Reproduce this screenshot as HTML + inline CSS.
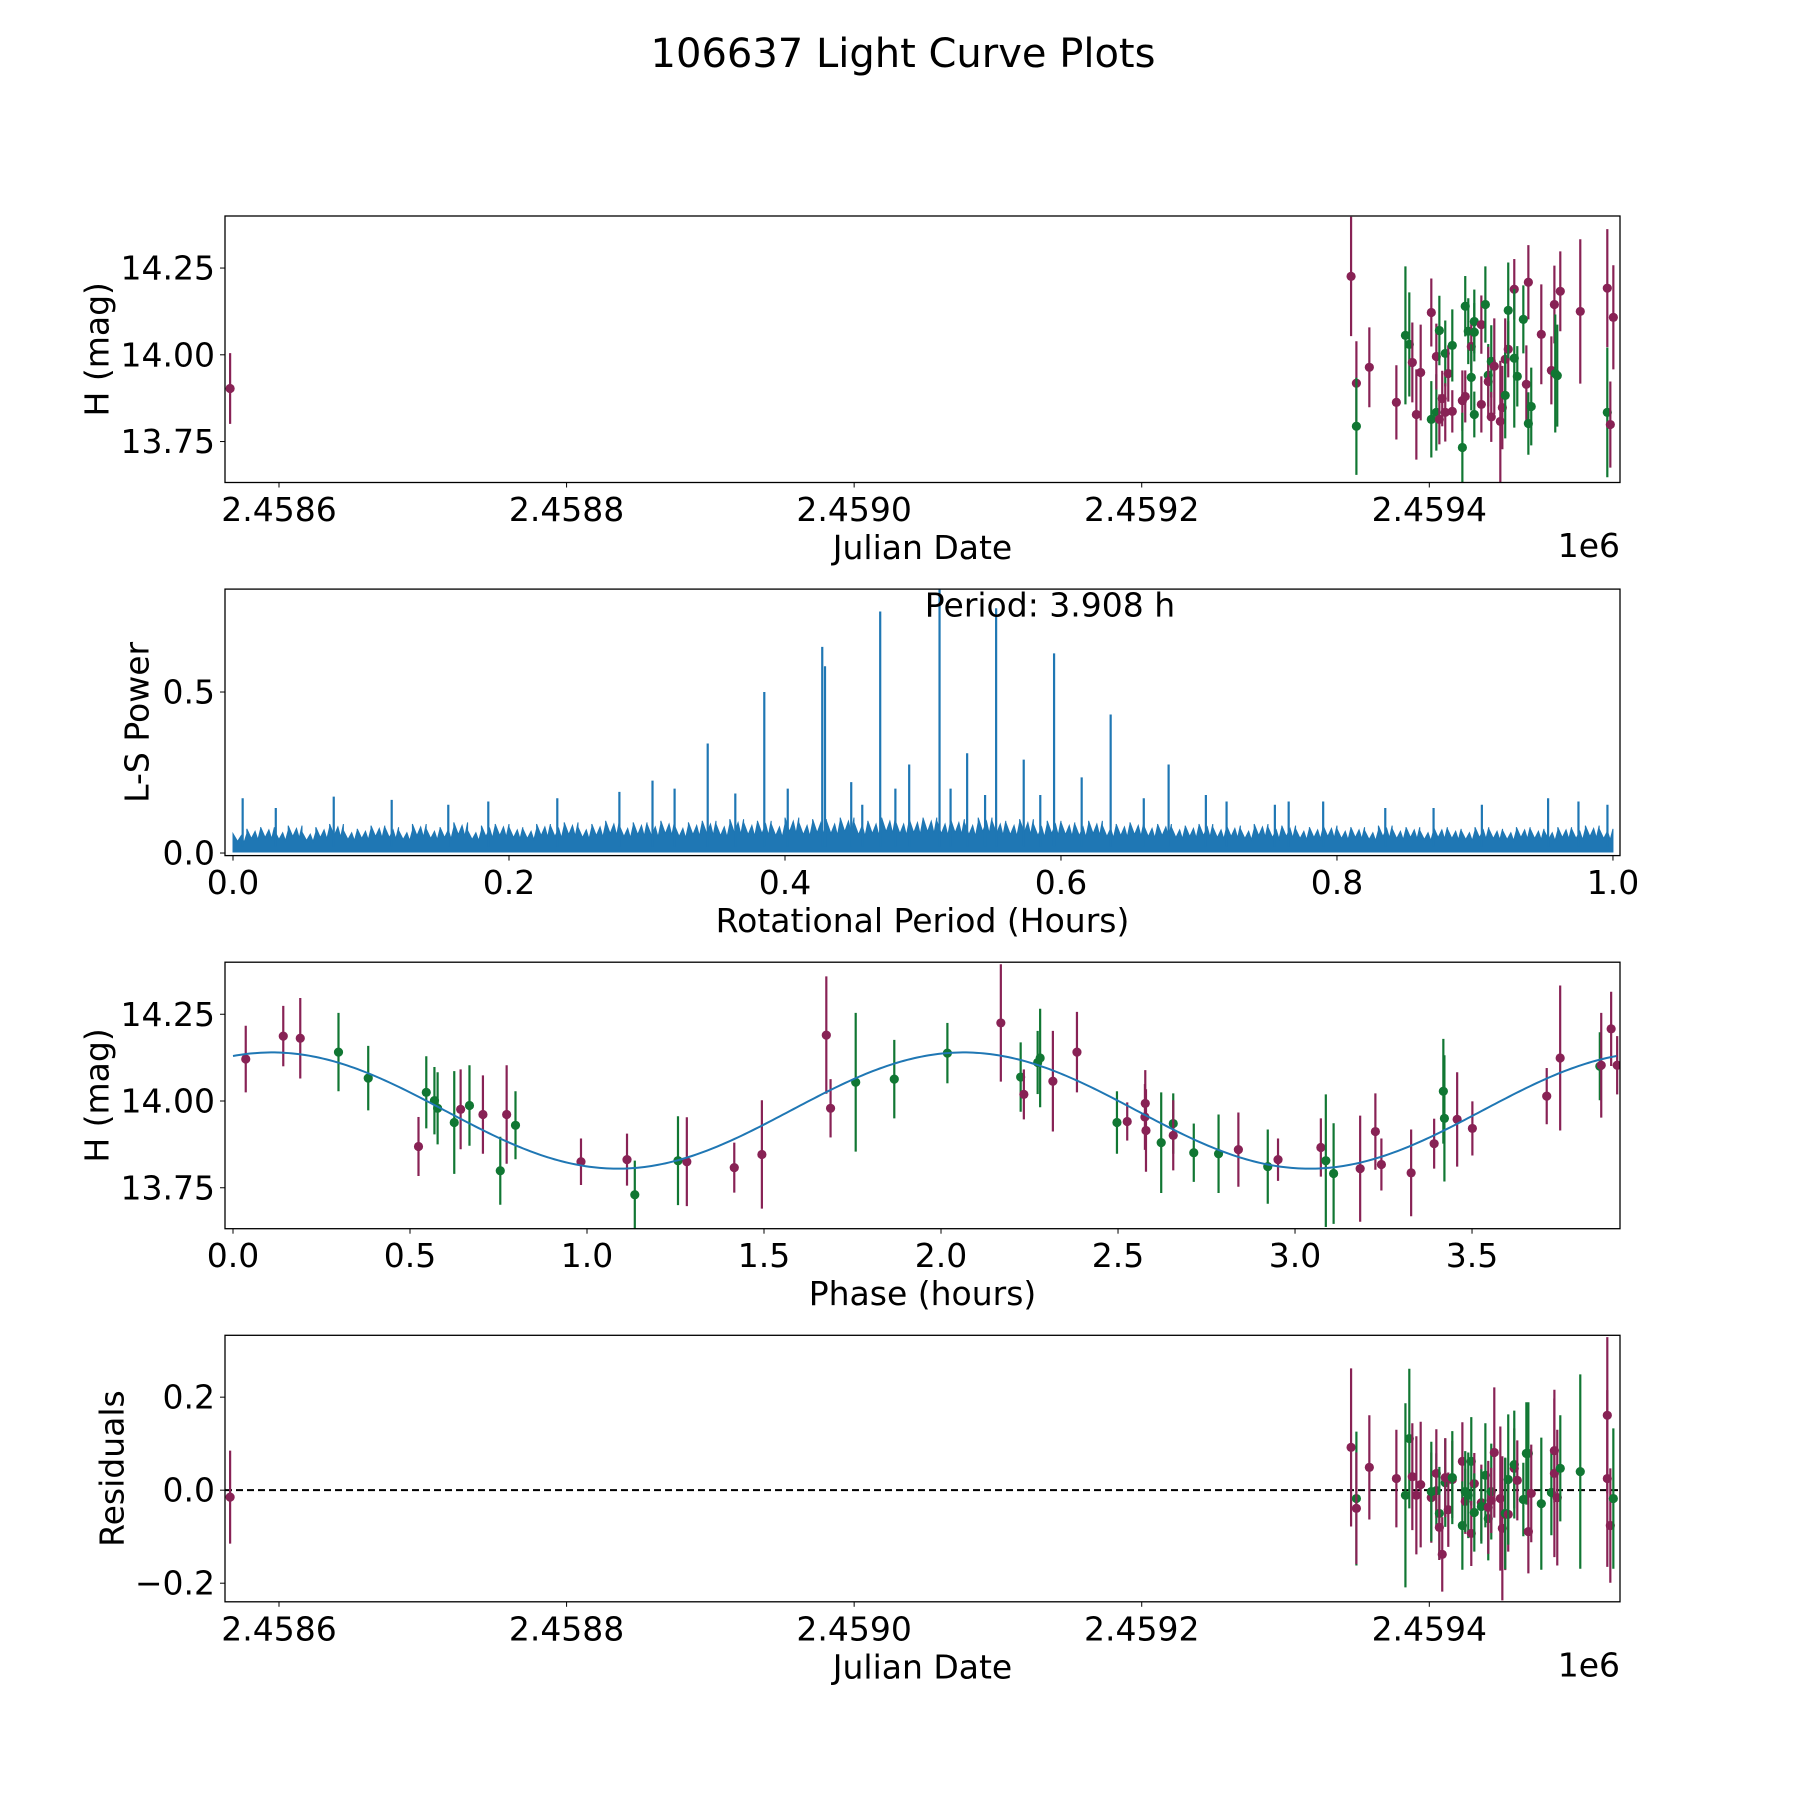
<!DOCTYPE html>
<html><head><meta charset="utf-8">
<style>
html,body{margin:0;padding:0;background:#fff;}
svg{display:block;font-family:"DejaVu Sans","Liberation Sans",sans-serif;}
</style></head>
<body>
<svg id="fig" width="1800" height="1800" viewBox="0 0 1800 1800" xmlns="http://www.w3.org/2000/svg">
<rect x="0" y="0" width="1800" height="1800" fill="#fff"/>
<text x="903" y="54" font-size="40" text-anchor="middle" dominant-baseline="central">106637 Light Curve Plots</text>
</svg>
<script>
// ---------- Panel 1: raw light curve (days offset from JD 2458600) ----------
const lcDays = [-34,745.6,749.3,749.3,758.3,777.1,783.4,786.1,788.2,791.0,794.0,801.4,801.4,804.9,804.9,807.0,807.0,809.0,811.1,811.1,813.2,816.0,816.0,823.0,823.0,825.0,825.0,827.1,829.2,829.2,831.3,831.3,831.3,836.2,836.2,839.0,841.0,841.0,843.1,843.1,845.2,849.4,850.8,852.8,852.8,854.9,854.9,859.1,859.1,861.2,865.4,867.5,868.9,868.9,870.9,877.9,884.9,887.0,887.6,889.0,891.1,905.0,923.8,923.8,925.9,928.0];
const lcMag = [13.903,14.226,13.918,13.794,13.964,13.863,14.056,14.030,13.978,13.828,13.949,14.122,13.814,13.834,13.995,13.814,14.070,13.874,14.004,13.834,13.946,14.027,13.837,13.868,13.733,13.880,14.140,14.068,14.024,13.935,14.096,14.065,13.828,14.087,13.857,14.145,13.941,13.923,13.981,13.821,13.967,13.808,13.848,13.987,13.883,14.016,14.128,14.189,13.990,13.938,14.102,13.915,14.209,13.802,13.851,14.059,13.955,14.145,13.946,13.940,14.183,14.125,14.192,13.834,13.799,14.108];
const lcErr = [0.102,0.172,0.121,0.14,0.115,0.107,0.199,0.150,0.115,0.13,0.138,0.098,0.11,0.11,0.095,0.072,0.10,0.08,0.095,0.084,0.081,0.104,0.061,0.087,0.1,0.075,0.087,0.095,0.07,0.095,0.092,0.084,0.066,0.084,0.081,0.11,0.09,0.10,0.104,0.072,0.138,0.175,0.12,0.118,0.124,0.081,0.138,0.087,0.2,0.087,0.098,0.112,0.107,0.09,0.112,0.144,0.098,0.112,0.17,0.147,0.115,0.208,0.17,0.187,0.124,0.15];
const lcBand = "mmmgmmggmmmmggmmgmgmmgmmgmggmggggmmggmgmmmmmgmgmgggmmggmmmggmmmgmm";

// ---------- Panel 2: periodogram ----------
const peakPeriods = [0.344,0.385,0.427,0.429,0.469,0.49,0.512,0.532,0.553,0.573,0.595,0.615,0.636,0.678,0.007,0.031,0.073,0.115,0.156,0.185,0.235,0.28,0.304,0.32,0.364,0.402,0.448,0.456,0.48,0.52,0.545,0.585,0.66,0.705,0.72,0.755,0.765,0.79,0.835,0.87,0.905,0.953,0.975,0.996];
const peakPowers = [0.34,0.50,0.64,0.58,0.75,0.275,0.82,0.31,0.76,0.29,0.62,0.235,0.43,0.275,0.17,0.14,0.175,0.165,0.15,0.16,0.17,0.19,0.225,0.2,0.185,0.2,0.22,0.15,0.2,0.2,0.18,0.18,0.17,0.18,0.16,0.15,0.16,0.16,0.14,0.14,0.15,0.17,0.16,0.15];
const noiseEnvelope = [0.06,0.075,0.08,0.07,0.085,0.065,0.08,0.09,0.07,0.075,0.085,0.08,0.07,0.09,0.075,0.08,0.095,0.07,0.085,0.09,0.08,0.075,0.09,0.085,0.095,0.08,0.09,0.1,0.085,0.095,0.09,0.1,0.085,0.095,0.1,0.09,0.105,0.095,0.1,0.09,0.11,0.095,0.105,0.1,0.11,0.095,0.1,0.11,0.1,0.105,0.11,0.1,0.105,0.095,0.11,0.1,0.095,0.105,0.09,0.1,0.095,0.09,0.1,0.085,0.09,0.095,0.085,0.09,0.08,0.085,0.09,0.08,0.085,0.075,0.09,0.08,0.085,0.075,0.08,0.085,0.075,0.08,0.07,0.085,0.075,0.08,0.07,0.08,0.075,0.07,0.08,0.075,0.07,0.08,0.075,0.07,0.08,0.075,0.085,0.075];

// ---------- Panel 3: phase folded ----------
const phHours = [0.036,0.142,0.19,0.298,0.382,0.524,0.546,0.569,0.578,0.625,0.643,0.668,0.706,0.773,0.798,0.755,0.983,1.113,1.135,1.257,1.282,1.416,1.494,1.676,1.688,1.759,1.868,2.018,2.169,2.225,2.234,2.273,2.280,2.316,2.384,2.497,2.526,2.577,2.576,2.579,2.622,2.656,2.656,2.714,2.784,2.840,2.923,2.952,3.073,3.087,3.109,3.184,3.227,3.244,3.328,3.393,3.419,3.422,3.458,3.501,3.711,3.749,3.861,3.865,3.893,3.910];
const phMag = [14.121,14.187,14.181,14.141,14.066,13.869,14.025,14.001,13.979,13.938,13.976,13.987,13.961,13.961,13.930,13.799,13.825,13.831,13.730,13.828,13.825,13.808,13.846,14.190,13.979,14.054,14.063,14.138,14.225,14.069,14.019,14.111,14.124,14.057,14.141,13.938,13.941,13.993,13.954,13.915,13.880,13.935,13.901,13.851,13.848,13.860,13.811,13.831,13.866,13.828,13.791,13.805,13.912,13.817,13.793,13.877,14.028,13.950,13.947,13.921,14.014,14.124,14.100,14.103,14.208,14.103];
const phErr = [0.096,0.087,0.116,0.113,0.093,0.085,0.104,0.097,0.104,0.148,0.115,0.116,0.113,0.142,0.098,0.098,0.067,0.075,0.098,0.128,0.128,0.072,0.156,0.169,0.084,0.200,0.113,0.087,0.169,0.100,0.072,0.091,0.142,0.145,0.116,0.090,0.055,0.096,0.095,0.119,0.145,0.087,0.101,0.084,0.113,0.107,0.107,0.061,0.084,0.191,0.145,0.153,0.110,0.075,0.125,0.072,0.151,0.182,0.136,0.078,0.081,0.209,0.098,0.151,0.107,0.084];
const phBand = "mmmggmggggmgmmggmmggmmmmmgggmgmggmmgmmmmggmggmgmmggmmmmmggmmmmgmmm";
const modelMean = 13.9725, modelAmp = 0.1675, modelPeak = 0.11, modelHalfPeriod = 1.954, foldPeriod = 3.908;

// ---------- Panel 4: residuals ----------
const resDays = [-34,745.6,749.3,749.3,758.3,777.1,783.4,786.1,788.2,791,794,801.4,801.4,804.9,804.9,807,807,809,811.1,811.1,813.2,816,816,823,823,825,825,827.1,829.2,829.2,831.3,831.3,836.2,836.2,839,841,841,843.1,843.1,845.2,849.4,850.8,852.8,852.8,854.9,854.9,859.1,859.1,861.2,865.4,867.5,868.9,868.9,870.9,877.9,884.9,887,887,889,891.1,905,923.8,923.8,925.9,928];
const resVal = [-0.015,0.092,-0.018,-0.039,0.049,0.025,-0.011,0.111,0.029,-0.011,0.012,-0.016,-0.003,-0.001,0.036,-0.05,-0.08,-0.138,0.016,0.027,-0.042,0.023,0.027,0.062,-0.076,-0.024,-0.003,-0.011,0.062,-0.093,0.014,-0.048,-0.027,-0.035,0.032,-0.061,-0.037,-0.003,-0.022,0.081,-0.018,-0.082,-0.052,-0.05,-0.052,0.023,0.047,0.055,0.021,-0.02,0.079,0.079,-0.089,-0.007,-0.029,-0.005,0.085,0.036,-0.016,0.047,0.04,0.161,0.025,-0.076,-0.018];
const resErr = [0.1,0.17,0.144,0.12,0.112,0.105,0.198,0.15,0.115,0.127,0.135,0.097,0.107,0.08,0.095,0.1,0.07,0.08,0.095,0.085,0.08,0.083,0.1,0.084,0.095,0.07,0.087,0.092,0.095,0.07,0.066,0.084,0.082,0.08,0.112,0.09,0.1,0.103,0.07,0.14,0.155,0.155,0.12,0.12,0.08,0.14,0.086,0.116,0.086,0.079,0.11,0.11,0.09,0.105,0.142,0.092,0.112,0.18,0.146,0.114,0.209,0.168,0.19,0.123,0.151];
const resBand = "mmgmmmggmmmmggmgmmgmmmgmgmgggmmgmgggmgmmmmmgmgmgmgggmmggmmmggmmmgmm";

const xDateTicks = [0,200,400,600,800];
const xDateTickLabels = ["2.4586","2.4588","2.4590","2.4592","2.4594"];
const yMagTicks = [13.75,14.00,14.25];
const yMagTickLabels = ["13.75","14.00","14.25"];
const xPerTicks = [0,0.2,0.4,0.6,0.8,1.0];
const xPerTickLabels = ["0.0","0.2","0.4","0.6","0.8","1.0"];
const yPowTicks = [0,0.5];
const yPowTickLabels = ["0.0","0.5"];
const xPhTicks = [0,0.5,1,1.5,2,2.5,3,3.5];
const xPhTickLabels = ["0.0","0.5","1.0","1.5","2.0","2.5","3.0","3.5"];
const yResTicks = [-0.2,0,0.2];
const yResTickLabels = ["\u22120.2","0.0","0.2"];

const NS = "http://www.w3.org/2000/svg";
const svg = document.getElementById("fig");
const L = 225, R = 1620, H = 266.5;
const tops = [216, 589.1, 962.2, 1335.3];
const COL = {m:"#882255", g:"#117733"};
const FS = 33;

function el(tag, attrs, parent) {
  const e = document.createElementNS(NS, tag);
  for (const k in attrs) e.setAttribute(k, attrs[k]);
  (parent || svg).appendChild(e);
  return e;
}
function lin(d0, d1, p0, p1) { return v => p0 + (v - d0) / (d1 - d0) * (p1 - p0); }

function axesFrame(i, name, xs, ys, xt, xtl, yt, ytl, xlabel, ylabel, ylabelX) {
  const top = tops[i], bot = top + H;
  const g = el("g", {});
  
  
  xt.forEach((v, k) => {
    const x = xs(v);
    const t = el("line", {x1:x, x2:x, y1:bot, y2:bot+5, stroke:"#000", "stroke-width":1}, g);
    
    
    const lb = el("text", {x:x, y:bot+27, "font-size":FS, "text-anchor":"middle", "dominant-baseline":"central"}, g);
    
    
    lb.textContent = xtl[k];
  });
  yt.forEach((v, k) => {
    const y = ys(v);
    const t = el("line", {x1:L-5, x2:L, y1:y, y2:y, stroke:"#000", "stroke-width":1}, g);
    
    
    const lb = el("text", {x:L-10, y:y, "font-size":FS, "text-anchor":"end", "dominant-baseline":"central"}, g);
    
    
    lb.textContent = ytl[k];
  });
  const xl = el("text", {x:(L+R)/2, y:bot+65, "font-size":FS, "text-anchor":"middle", "dominant-baseline":"central"}, g);
  
  
  xl.textContent = xlabel;
  const yl = el("text", {x:0, y:0, "font-size":FS, "text-anchor":"middle", "dominant-baseline":"central", transform:`translate(${ylabelX},${top+H/2}) rotate(-90)`}, g);
  
  
  yl.textContent = ylabel;
  return g;
}
function frameRect(i, name) {
  const r = el("rect", {x:L, y:tops[i], width:R-L, height:H, fill:"none", stroke:"#000", "stroke-width":1.3});
  
  
}
function clip(i, id) {
  const c = el("clipPath", {id:id});
  el("rect", {x:L, y:tops[i], width:R-L, height:H}, c);
}
function errPoints(parent, xsArr, ysArr, esArr, band, xs, ys, nm) {
  xsArr.forEach((v, k) => {
    const x = xs(v), c = COL[band[k]] || COL.m;
    const g = el("g", {}, parent);
    
    
    el("line", {x1:x, x2:x, y1:ys(ysArr[k]+esArr[k]), y2:ys(ysArr[k]-esArr[k]), stroke:c, "stroke-width":2.2}, g);
    el("circle", {cx:x, cy:ys(ysArr[k]), r:4.6, fill:c}, g);
  });
}

// Panel 1
const xDate = lin(0, 800, 279, 1429.3);
const yMag1 = lin(13.632, 14.40, tops[0]+H, tops[0]);
clip(0, "c0");
axesFrame(0, "raw-lightcurve-axes", xDate, yMag1, xDateTicks, xDateTickLabels, yMagTicks, yMagTickLabels, "Julian Date", "H (mag)", 97);
const p1 = el("g", {"clip-path":"url(#c0)"});


errPoints(p1, lcDays, lcMag, lcErr, lcBand, xDate, yMag1, 'lightcurve-point');
frameRect(0, "raw-lightcurve-frame");
const off1 = el("text", {x:R, y:tops[0]+H+63, "font-size":FS, "text-anchor":"end", "dominant-baseline":"central"});


off1.textContent = "1e6";

// Panel 2
const xPer = lin(-0.0058, 1.0051, L, R);
const yPow = lin(-0.008, 0.8196, tops[1]+H, tops[1]);
clip(1, "c1");
axesFrame(1, "periodogram-axes", xPer, yPow, xPerTicks, xPerTickLabels, yPowTicks, yPowTickLabels, "Rotational Period (Hours)", "L-S Power", 137);
const p2 = el("g", {"clip-path":"url(#c1)"});


let dPath = "M" + xPer(0) + "," + yPow(0.003);
const nE = noiseEnvelope.length;
noiseEnvelope.forEach((v, k) => {
  const x0 = xPer(k / nE), x1 = xPer((k + 1) / nE);
  dPath += " L" + x0 + "," + yPow(v) + " L" + (x0+(x1-x0)*0.33) + "," + yPow(v*0.6) + " L" + (x0+(x1-x0)*0.6) + "," + yPow(v*0.9) + " L" + (x0+(x1-x0)*0.8) + "," + yPow(v*0.55) + " L" + x1 + "," + yPow(v);
});
dPath += " L" + xPer(1) + "," + yPow(0.003) + " Z";
const band = el("path", {d:dPath, fill:"#1f77b4", stroke:"#1f77b4", "stroke-width":1}, p2);


peakPeriods.forEach((v, k) => {
  const x = xPer(v);
  const ln = el("line", {x1:x, x2:x, y1:yPow(0.02), y2:yPow(peakPowers[k]), stroke:"#1f77b4", "stroke-width":2.2}, p2);
  
  
});
frameRect(1, "periodogram-frame");
const per = el("text", {x:1050, y:605, "font-size":FS, "text-anchor":"middle", "dominant-baseline":"central"});


per.textContent = "Period: 3.908 h";

// Panel 3
const xPh = lin(-0.0226, 3.918, L, R);
const yMag3 = lin(13.632, 14.40, tops[2]+H, tops[2]);
clip(2, "c2");
axesFrame(2, "phase-folded-axes", xPh, yMag3, xPhTicks, xPhTickLabels, yMagTicks, yMagTickLabels, "Phase (hours)", "H (mag)", 97);
const p3 = el("g", {"clip-path":"url(#c2)"});


errPoints(p3, phHours, phMag, phErr, phBand, xPh, yMag3, 'phase-point');
let mPath = "";
for (let k = 0; k <= 400; k++) {
  const ph = foldPeriod * k / 400;
  const m = modelMean + modelAmp * Math.cos(2 * Math.PI * (ph - modelPeak) / modelHalfPeriod);
  mPath += (k ? " L" : "M") + xPh(ph) + "," + yMag3(m);
}
const model = el("path", {d:mPath, fill:"none", stroke:"#1f77b4", "stroke-width":2}, p3);


frameRect(2, "phase-folded-frame");

// Panel 4
const yRes = lin(-0.240, 0.333, tops[3]+H, tops[3]);
clip(3, "c3");
axesFrame(3, "residuals-axes", xDate, yRes, xDateTicks, xDateTickLabels, yResTicks, yResTickLabels, "Julian Date", "Residuals", 112);
const p4 = el("g", {"clip-path":"url(#c3)"});


const zl = el("line", {x1:L, x2:R, y1:yRes(0), y2:yRes(0), stroke:"#000", "stroke-width":2, "stroke-dasharray":"7,4"}, p4);


errPoints(p4, resDays, resVal, resErr, resBand, xDate, yRes, 'residual-point');
frameRect(3, "residuals-frame");
const off4 = el("text", {x:R, y:tops[3]+H+63, "font-size":FS, "text-anchor":"end", "dominant-baseline":"central"});


off4.textContent = "1e6";
</script>
</body></html>
